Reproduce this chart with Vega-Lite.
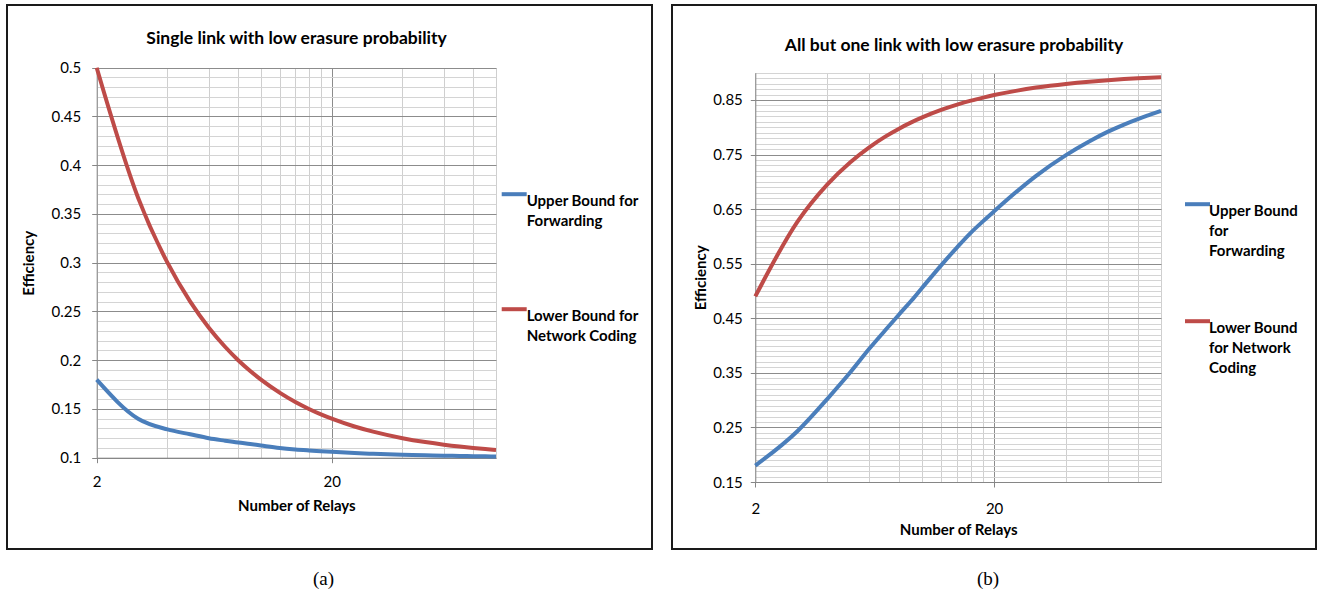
{
  "$schema": "https://vega.github.io/schema/vega-lite/v6.json",
  "background": "white",
  "padding": {"left": 6, "top": 4, "right": 0, "bottom": 0},
  "datasets": {
    "a": [
      {"relays": 2, "series": "Upper Bound for Forwarding", "efficiency": 0.18},
      {"relays": 3, "series": "Upper Bound for Forwarding", "efficiency": 0.14},
      {"relays": 4, "series": "Upper Bound for Forwarding", "efficiency": 0.129},
      {"relays": 5, "series": "Upper Bound for Forwarding", "efficiency": 0.124},
      {"relays": 6, "series": "Upper Bound for Forwarding", "efficiency": 0.12},
      {"relays": 7, "series": "Upper Bound for Forwarding", "efficiency": 0.1175},
      {"relays": 8, "series": "Upper Bound for Forwarding", "efficiency": 0.1155},
      {"relays": 9, "series": "Upper Bound for Forwarding", "efficiency": 0.114},
      {"relays": 10, "series": "Upper Bound for Forwarding", "efficiency": 0.1125},
      {"relays": 12, "series": "Upper Bound for Forwarding", "efficiency": 0.11},
      {"relays": 14, "series": "Upper Bound for Forwarding", "efficiency": 0.1085},
      {"relays": 16, "series": "Upper Bound for Forwarding", "efficiency": 0.1075},
      {"relays": 18, "series": "Upper Bound for Forwarding", "efficiency": 0.1067},
      {"relays": 20, "series": "Upper Bound for Forwarding", "efficiency": 0.106},
      {"relays": 25, "series": "Upper Bound for Forwarding", "efficiency": 0.1048},
      {"relays": 30, "series": "Upper Bound for Forwarding", "efficiency": 0.104},
      {"relays": 40, "series": "Upper Bound for Forwarding", "efficiency": 0.103},
      {"relays": 50, "series": "Upper Bound for Forwarding", "efficiency": 0.1025},
      {"relays": 60, "series": "Upper Bound for Forwarding", "efficiency": 0.102},
      {"relays": 70, "series": "Upper Bound for Forwarding", "efficiency": 0.1018},
      {"relays": 80, "series": "Upper Bound for Forwarding", "efficiency": 0.1016},
      {"relays": 90, "series": "Upper Bound for Forwarding", "efficiency": 0.1014},
      {"relays": 100, "series": "Upper Bound for Forwarding", "efficiency": 0.1013},
      {"relays": 2, "series": "Lower Bound for Network Coding", "efficiency": 0.5},
      {"relays": 3, "series": "Lower Bound for Network Coding", "efficiency": 0.3667},
      {"relays": 4, "series": "Lower Bound for Network Coding", "efficiency": 0.3},
      {"relays": 5, "series": "Lower Bound for Network Coding", "efficiency": 0.26},
      {"relays": 6, "series": "Lower Bound for Network Coding", "efficiency": 0.2333},
      {"relays": 7, "series": "Lower Bound for Network Coding", "efficiency": 0.2143},
      {"relays": 8, "series": "Lower Bound for Network Coding", "efficiency": 0.2},
      {"relays": 9, "series": "Lower Bound for Network Coding", "efficiency": 0.1889},
      {"relays": 10, "series": "Lower Bound for Network Coding", "efficiency": 0.18},
      {"relays": 12, "series": "Lower Bound for Network Coding", "efficiency": 0.1667},
      {"relays": 14, "series": "Lower Bound for Network Coding", "efficiency": 0.1571},
      {"relays": 16, "series": "Lower Bound for Network Coding", "efficiency": 0.15},
      {"relays": 18, "series": "Lower Bound for Network Coding", "efficiency": 0.1444},
      {"relays": 20, "series": "Lower Bound for Network Coding", "efficiency": 0.14},
      {"relays": 25, "series": "Lower Bound for Network Coding", "efficiency": 0.132},
      {"relays": 30, "series": "Lower Bound for Network Coding", "efficiency": 0.1267},
      {"relays": 40, "series": "Lower Bound for Network Coding", "efficiency": 0.12},
      {"relays": 50, "series": "Lower Bound for Network Coding", "efficiency": 0.116},
      {"relays": 60, "series": "Lower Bound for Network Coding", "efficiency": 0.1133},
      {"relays": 70, "series": "Lower Bound for Network Coding", "efficiency": 0.1114},
      {"relays": 80, "series": "Lower Bound for Network Coding", "efficiency": 0.11},
      {"relays": 90, "series": "Lower Bound for Network Coding", "efficiency": 0.1089},
      {"relays": 100, "series": "Lower Bound for Network Coding", "efficiency": 0.108}
    ],
    "b": [
      {"relays": 2, "series": "Upper Bound for Forwarding", "efficiency": 0.18},
      {"relays": 3, "series": "Upper Bound for Forwarding", "efficiency": 0.243},
      {"relays": 4, "series": "Upper Bound for Forwarding", "efficiency": 0.302},
      {"relays": 5, "series": "Upper Bound for Forwarding", "efficiency": 0.351},
      {"relays": 6, "series": "Upper Bound for Forwarding", "efficiency": 0.394},
      {"relays": 7, "series": "Upper Bound for Forwarding", "efficiency": 0.428},
      {"relays": 8, "series": "Upper Bound for Forwarding", "efficiency": 0.457},
      {"relays": 9, "series": "Upper Bound for Forwarding", "efficiency": 0.482},
      {"relays": 10, "series": "Upper Bound for Forwarding", "efficiency": 0.506},
      {"relays": 12, "series": "Upper Bound for Forwarding", "efficiency": 0.547},
      {"relays": 14, "series": "Upper Bound for Forwarding", "efficiency": 0.58},
      {"relays": 16, "series": "Upper Bound for Forwarding", "efficiency": 0.607},
      {"relays": 18, "series": "Upper Bound for Forwarding", "efficiency": 0.628},
      {"relays": 20, "series": "Upper Bound for Forwarding", "efficiency": 0.646},
      {"relays": 25, "series": "Upper Bound for Forwarding", "efficiency": 0.683},
      {"relays": 30, "series": "Upper Bound for Forwarding", "efficiency": 0.711},
      {"relays": 40, "series": "Upper Bound for Forwarding", "efficiency": 0.749},
      {"relays": 50, "series": "Upper Bound for Forwarding", "efficiency": 0.774},
      {"relays": 60, "series": "Upper Bound for Forwarding", "efficiency": 0.792},
      {"relays": 70, "series": "Upper Bound for Forwarding", "efficiency": 0.805},
      {"relays": 80, "series": "Upper Bound for Forwarding", "efficiency": 0.815},
      {"relays": 90, "series": "Upper Bound for Forwarding", "efficiency": 0.823},
      {"relays": 100, "series": "Upper Bound for Forwarding", "efficiency": 0.83},
      {"relays": 2, "series": "Lower Bound for Network Coding", "efficiency": 0.49},
      {"relays": 3, "series": "Lower Bound for Network Coding", "efficiency": 0.6267},
      {"relays": 4, "series": "Lower Bound for Network Coding", "efficiency": 0.695},
      {"relays": 5, "series": "Lower Bound for Network Coding", "efficiency": 0.736},
      {"relays": 6, "series": "Lower Bound for Network Coding", "efficiency": 0.7633},
      {"relays": 7, "series": "Lower Bound for Network Coding", "efficiency": 0.7829},
      {"relays": 8, "series": "Lower Bound for Network Coding", "efficiency": 0.7975},
      {"relays": 9, "series": "Lower Bound for Network Coding", "efficiency": 0.8089},
      {"relays": 10, "series": "Lower Bound for Network Coding", "efficiency": 0.818},
      {"relays": 12, "series": "Lower Bound for Network Coding", "efficiency": 0.8317},
      {"relays": 14, "series": "Lower Bound for Network Coding", "efficiency": 0.8414},
      {"relays": 16, "series": "Lower Bound for Network Coding", "efficiency": 0.8488},
      {"relays": 18, "series": "Lower Bound for Network Coding", "efficiency": 0.8544},
      {"relays": 20, "series": "Lower Bound for Network Coding", "efficiency": 0.859},
      {"relays": 25, "series": "Lower Bound for Network Coding", "efficiency": 0.8672},
      {"relays": 30, "series": "Lower Bound for Network Coding", "efficiency": 0.8727},
      {"relays": 40, "series": "Lower Bound for Network Coding", "efficiency": 0.8795},
      {"relays": 50, "series": "Lower Bound for Network Coding", "efficiency": 0.8836},
      {"relays": 60, "series": "Lower Bound for Network Coding", "efficiency": 0.8863},
      {"relays": 70, "series": "Lower Bound for Network Coding", "efficiency": 0.8883},
      {"relays": 80, "series": "Lower Bound for Network Coding", "efficiency": 0.8898},
      {"relays": 90, "series": "Lower Bound for Network Coding", "efficiency": 0.8909},
      {"relays": 100, "series": "Lower Bound for Network Coding", "efficiency": 0.8918}
    ]
  },
  "config": {
    "font": "Lato",
    "view": {"stroke": "#1a1a1a", "strokeWidth": 2},
    "style": {"guide-label": {"lineHeight": 20}},
    "axis": {
      "labelFont": "Lato", "labelFontSize": 15, "labelColor": "#000000",
      "titleFont": "Lato", "titleFontSize": 15, "titleFontWeight": "bold", "titleColor": "#000000",
      "domainColor": "#868686", "domainWidth": 1, "tickSize": 5, "labelOverlap": false, "labelFlush": false
    },
    "legend": {
      "labelFont": "Lato", "labelFontSize": 15, "labelFontWeight": "bold", "labelColor": "#000000", "padding": 0
    }
  },
  "resolve": {"scale": {"color": "independent"}, "legend": {"color": "independent"}},
  "spacing": 18,
  "hconcat": [
    {
      "title": {"text": "(a)", "orient": "bottom", "font": "Liberation Serif", "fontSize": 19, "fontWeight": "normal", "color": "#000000", "offset": 20, "anchor": "middle", "dx": -6},
      "vconcat": [
        {
          "width": 645,
          "height": 544,
          "data": {"name": "a"},
          "title": {"text": "Single link with low erasure probability", "fontSize": 17.5, "fontWeight": "bold", "color": "#000000", "anchor": "middle", "offset": -42.5, "dx": -33},
          "encoding": {
            "y": {
              "field": "efficiency", "type": "quantitative",
              "scale": {"domain": [0.1, 0.5], "range": [452.7, 62.7], "nice": false, "zero": false},
              "axis": {
                "title": "Efficiency", "titlePadding": 15,
                "offset": -89.7,
                "values": [0.1, 0.11, 0.12, 0.13, 0.14, 0.15, 0.16, 0.17, 0.18, 0.19, 0.2, 0.21, 0.22, 0.23, 0.24, 0.25, 0.26, 0.27, 0.28, 0.29, 0.3, 0.31, 0.32, 0.33, 0.34, 0.35, 0.36, 0.37, 0.38, 0.39, 0.4, 0.41, 0.42, 0.43, 0.44, 0.45, 0.46, 0.47, 0.48, 0.49, 0.5],
                "labelExpr": "round(datum.value * 100) % 5 == 0 ? datum.value + '' : ''",
                "labelPadding": 11,
                "grid": true,
                "gridColor": {"condition": {"test": "round(datum.value * 100) % 5 == 0", "value": "#8c8c8c"}, "value": "#d4d4d4"},
                "tickColor": {"condition": {"test": "round(datum.value * 100) % 5 == 0", "value": "#868686"}, "value": "transparent"}
              }
            }
          },
          "layer": [
            {
              "mark": {"type": "line", "opacity": 0},
              "encoding": {
                "x": {
                  "field": "relays", "type": "quantitative",
                  "scale": {"type": "log", "domain": [2, 100], "range": [89.7, 489], "nice": false},
                  "axis": {
                    "orient": "top", "title": null, "labels": false, "ticks": false, "domain": false,
                    "values": [2, 4, 6, 8, 10, 12, 14, 16, 18, 20, 40, 60, 80, 100],
                    "grid": true,
                    "gridColor": {"condition": {"test": "datum.value == 20", "value": "#8c8c8c"}, "value": "#cfcfcf"}
                  }
                }
              }
            },
            {
              "mark": {"type": "line", "interpolate": "monotone", "strokeWidth": 4},
              "encoding": {
                "x": {
                  "field": "relays", "type": "quantitative",
                  "scale": {"type": "log", "domain": [2, 100], "range": [89.7, 489], "nice": false},
                  "axis": {
                    "orient": "bottom",
                    "title": "Number of Relays", "titlePadding": 8.5,
                    "offset": -91.3,
                    "values": [2, 4, 6, 8, 10, 12, 14, 16, 18, 20, 40, 60, 80, 100],
                    "labelExpr": "datum.value == 2 || datum.value == 20 ? datum.value + '' : ''",
                    "labelPadding": 12,
                    "grid": false,
                    "tickColor": {"condition": {"test": "datum.value == 2 || datum.value == 20", "value": "#868686"}, "value": "transparent"}
                  }
                },
                "color": {
                  "field": "series", "type": "nominal",
                  "scale": {"domain": ["Upper Bound for Forwarding", "Lower Bound for Network Coding"], "range": ["#4a7ebb", "#be4b48"]},
                  "legend": {
                    "orient": "none", "legendX": 492.7, "legendY": 174.7, "title": null,
                    "symbolType": "stroke", "symbolStrokeWidth": 4, "symbolSize": 625,
                    "labelBaseline": "top", "labelOffset": -2, "labelLimit": 300, "rowPadding": 65,
                    "labelExpr": "datum.label == 'Upper Bound for Forwarding' ? ['Upper Bound for', 'Forwarding'] : ['Lower Bound for', 'Network Coding']"
                  }
                }
              }
            }
          ],
          "resolve": {"axis": {"x": "independent"}}
        }
      ]
    },
    {
      "title": {"text": "(b)", "orient": "bottom", "font": "Liberation Serif", "fontSize": 19, "fontWeight": "normal", "color": "#000000", "offset": 20, "anchor": "middle", "dx": -6},
      "vconcat": [
        {
          "width": 644,
          "height": 544,
          "data": {"name": "b"},
          "title": {"text": "All but one link with low erasure probability", "fontSize": 17.5, "fontWeight": "bold", "color": "#000000", "anchor": "middle", "offset": -49, "dx": -40},
          "encoding": {
            "y": {
              "field": "efficiency", "type": "quantitative",
              "scale": {"domain": [0.15, 0.9], "range": [477, 67.7], "nice": false, "zero": false},
              "axis": {
                "title": "Efficiency", "titlePadding": 4,
                "offset": -83.3,
                "values": [0.15, 0.16, 0.17, 0.18, 0.19, 0.2, 0.21, 0.22, 0.23, 0.24, 0.25, 0.26, 0.27, 0.28, 0.29, 0.3, 0.31, 0.32, 0.33, 0.34, 0.35, 0.36, 0.37, 0.38, 0.39, 0.4, 0.41, 0.42, 0.43, 0.44, 0.45, 0.46, 0.47, 0.48, 0.49, 0.5, 0.51, 0.52, 0.53, 0.54, 0.55, 0.56, 0.57, 0.58, 0.59, 0.6, 0.61, 0.62, 0.63, 0.64, 0.65, 0.66, 0.67, 0.68, 0.69, 0.7, 0.71, 0.72, 0.73, 0.74, 0.75, 0.76, 0.77, 0.78, 0.79, 0.8, 0.81, 0.82, 0.83, 0.84, 0.85, 0.86, 0.87, 0.88, 0.89, 0.9],
                "labelExpr": "round(datum.value * 100) % 10 == 5 ? datum.value + '' : ''",
                "labelPadding": 8,
                "grid": true,
                "gridColor": {"condition": {"test": "round(datum.value * 100) % 10 == 5", "value": "#8c8c8c"}, "value": "#d4d4d4"},
                "tickColor": {"condition": {"test": "round(datum.value * 100) % 10 == 5", "value": "#868686"}, "value": "transparent"}
              }
            }
          },
          "layer": [
            {
              "mark": {"type": "line", "opacity": 0},
              "encoding": {
                "x": {
                  "field": "relays", "type": "quantitative",
                  "scale": {"type": "log", "domain": [2, 100], "range": [83.3, 489], "nice": false},
                  "axis": {
                    "orient": "top", "title": null, "labels": false, "ticks": false, "domain": false,
                    "values": [2, 4, 6, 8, 10, 12, 14, 16, 18, 20, 40, 60, 80, 100],
                    "grid": true,
                    "gridColor": {"condition": {"test": "datum.value == 20", "value": "#8c8c8c"}, "value": "#cfcfcf"}
                  }
                }
              }
            },
            {
              "mark": {"type": "line", "interpolate": "monotone", "strokeWidth": 4},
              "encoding": {
                "x": {
                  "field": "relays", "type": "quantitative",
                  "scale": {"type": "log", "domain": [2, 100], "range": [83.3, 489], "nice": false},
                  "axis": {
                    "orient": "bottom",
                    "title": "Number of Relays", "titlePadding": 6.5,
                    "offset": -67,
                    "values": [2, 4, 6, 8, 10, 12, 14, 16, 18, 20, 40, 60, 80, 100],
                    "labelExpr": "datum.value == 2 || datum.value == 20 ? datum.value + '' : ''",
                    "labelPadding": 14,
                    "grid": false,
                    "tickColor": {"condition": {"test": "datum.value == 2 || datum.value == 20", "value": "#868686"}, "value": "transparent"}
                  }
                },
                "color": {
                  "field": "series", "type": "nominal",
                  "scale": {"domain": ["Upper Bound for Forwarding", "Lower Bound for Network Coding"], "range": ["#4a7ebb", "#be4b48"]},
                  "legend": {
                    "orient": "none", "legendX": 511, "legendY": 184.7, "title": null,
                    "symbolType": "stroke", "symbolStrokeWidth": 4, "symbolSize": 625,
                    "labelBaseline": "top", "labelOffset": -3, "labelLimit": 300, "rowPadding": 47,
                    "labelExpr": "datum.label == 'Upper Bound for Forwarding' ? ['Upper Bound', 'for', 'Forwarding'] : ['Lower Bound', 'for Network', 'Coding']"
                  }
                }
              }
            }
          ],
          "resolve": {"axis": {"x": "independent"}}
        }
      ]
    }
  ]
}
